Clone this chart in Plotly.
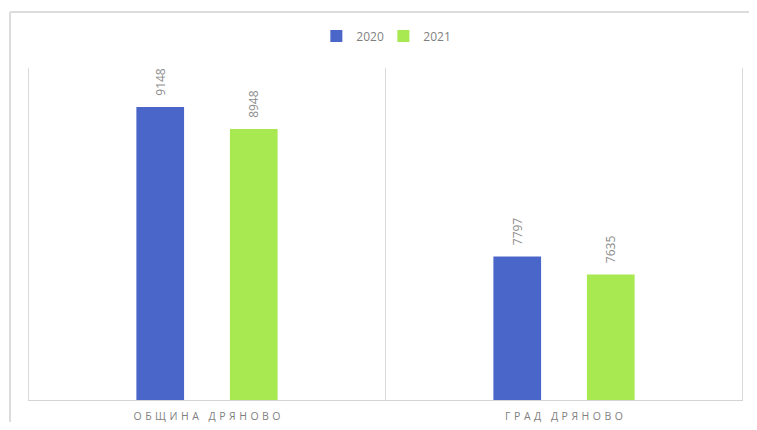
import plotly.graph_objects as go

categories = ["ОБЩИНА ДРЯНОВО", "ГРАД ДРЯНОВО"]
series_names = ["2020", "2021"]
values_2020 = [9148, 7797]
values_2021 = [8948, 7635]
colors = ["#4b66c9", "#a8e851"]

def spaced(s, sp="\u2004"):
    return sp.join(list(s))

# page body has an 8px default margin on all sides; size the figure so the page fits the window
W, H = 741, 414
L, R, T, B = 20, 6, 60, 22
PW, PH = W - L - R, H - T - B

fig = go.Figure()
for name, vals, col in zip(series_names, [values_2020, values_2021], colors):
    fig.add_trace(go.Bar(
        x=categories, y=vals, name=name, marker=dict(color=col, line=dict(width=0)),
        text=[str(v) for v in vals], texttemplate="\u00a0\u00a0\u2009%{text}",
        textposition="outside", textangle=-90,
        textfont=dict(family="Open Sans", size=12, color="#8c8c8c"),
        cliponaxis=False,
    ))

fig.update_layout(
    width=W, height=H,
    margin=dict(l=L, r=R, t=T, b=B, autoexpand=False),
    paper_bgcolor="white", plot_bgcolor="white",
    barmode="group", bargap=0.476, bargroupgap=0.49,
    showlegend=True,
    legend=dict(orientation="h", x=0.497, xanchor="center", y=1 - 28 / H, yanchor="middle",
                yref="container", font=dict(family="Open Sans", size=12, color="#7f7f7f"),
                itemwidth=30, entrywidth=22),
    xaxis=dict(showgrid=False, showline=True, linecolor="#d4d4d4", linewidth=1,
               automargin=False,
               ticks="", tickvals=categories, ticktext=[spaced(c) for c in categories],
               ticklabelstandoff=6,
               tickfont=dict(family="Open Sans", size=10.5, color="#7f7f7f")),
    yaxis=dict(range=[6500, 9500], visible=False, automargin=False),
    font=dict(family="Open Sans"),
)

# category separator lines
for xv in [-0.5, 0.5, 1.5]:
    fig.add_shape(type="line", xref="x", yref="paper", x0=xv, x1=xv, y0=0, y1=1,
                  line=dict(color="#d9d9d9", width=1), layer="below")

# outer frame (top and left)
fx = (2 - L) / PW
fy = (H - B - 4) / PH
fig.add_shape(type="line", xref="paper", yref="paper", x0=fx, x1=(W + 10 - L) / PW,
              y0=fy, y1=fy, line=dict(color="#dcdcdc", width=2))
fig.add_shape(type="line", xref="paper", yref="paper", x0=fx, x1=fx,
              y0=-(B + 10) / PH, y1=fy, line=dict(color="#dcdcdc", width=2))

fig.write_html("out.html")
